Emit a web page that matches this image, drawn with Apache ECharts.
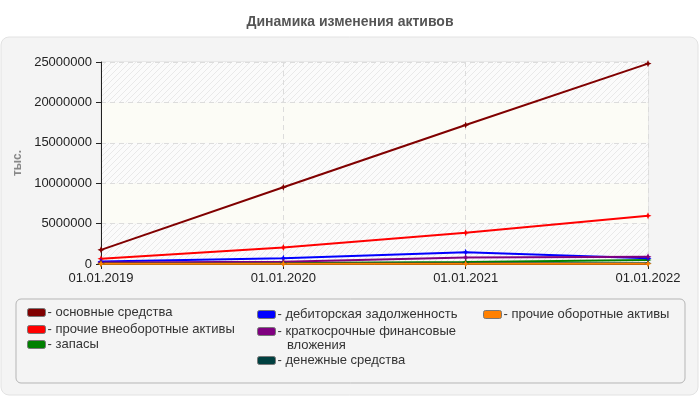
<!DOCTYPE html>
<html><head><meta charset="utf-8">
<script src="https://cdn.jsdelivr.net/npm/echarts@6/dist/echarts.min.js"></script>
<style>html,body{margin:0;padding:0;background:#fff;}#c{width:700px;height:400px;}</style>
</head><body><div id="c"></div>
<script>
const categories = ['01.01.2019', '01.01.2020', '01.01.2021', '01.01.2022'];
const seriesNames = ['основные средства', 'прочие внеоборотные активы', 'запасы', 'дебиторская задолженность', 'краткосрочные финансовые вложения', 'денежные средства', 'прочие оборотные активы'];
const osnovnye = [1750000, 9500000, 17200000, 24800000];
const prochieVneob = [650000, 2050000, 3870000, 5980000];
const zapasy = [100000, 120000, 250000, 500000];
const debitorskaya = [300000, 700000, 1450000, 700000];
const kratkosrochnye = [200000, 280000, 800000, 900000];
const denezhnye = [50000, 60000, 80000, 100000];
const prochieOb = [20000, 20000, 30000, 30000];
const yTicks = [0, 5000000, 10000000, 15000000, 20000000, 25000000];

const seriesData = [osnovnye, prochieVneob, zapasy, debitorskaya, kratkosrochnye, denezhnye, prochieOb];
const colors = ['#800000', '#ff0000', '#008000', '#0000ff', '#800080', '#004040', '#ff8000'];

// hatch pattern
const pc = document.createElement('canvas');
pc.width = 6; pc.height = 6;
const g = pc.getContext('2d');
g.fillStyle = '#fbfbfb'; g.fillRect(0, 0, 6, 6);
g.strokeStyle = '#e9e9e9'; g.lineWidth = 1;
g.beginPath(); g.moveTo(0, 6); g.lineTo(6, 0); g.moveTo(-3, 3); g.lineTo(3, -3); g.moveTo(3, 9); g.lineTo(9, 3); g.stroke();

const font = 'Liberation Sans, Arial, sans-serif';
const star = 'path://M0,-1 L0.3,-0.3 L1,0 L0.3,0.3 L0,1 L-0.3,0.3 L-1,0 L-0.3,-0.3 Z';

const legendPos = [
  [27, 314], [27, 331], [27, 346],
  [257, 316], [257, 333], [257, 362],
  [483, 316]
];

const chart = echarts.init(document.getElementById('c'));
chart.setOption({
  animation: false,
  color: colors,
  title: {
    text: 'Динамика изменения активов', left: 'center', top: 10,
    textStyle: { fontFamily: font, fontSize: 14, fontWeight: 'bold', color: '#555' }
  },
  graphic: [
    { type: 'rect', z: -100, shape: { x: 1, y: 37, width: 697, height: 358, r: 8 }, style: { fill: '#f4f4f4', stroke: '#e2e2e2', lineWidth: 1 } },
    { type: 'rect', z: -99, shape: { x: 16, y: 299, width: 669, height: 84, r: 5 }, style: { fill: '#f4f4f4', stroke: '#b5b5b5', lineWidth: 1 } },
    { type: 'text', z: 10, left: 287, top: 339, style: { text: 'вложения', fill: '#333', font: '13px ' + font } }
  ],
  legend: seriesNames.map((n, i) => ({
    data: [n], left: legendPos[i][0], top: legendPos[i][1] - 8, padding: 0,
    itemWidth: 18, itemHeight: 8, itemGap: 0, icon: 'roundRect', selectedMode: false,
    itemStyle: { borderColor: '#777', borderWidth: 1 },
    formatter: i === 4 ? '- краткосрочные финансовые' : '- {name}',
    textStyle: { fontFamily: font, fontSize: 13, color: '#333', padding: [0, 0, 0, -3] }
  })),
  grid: { left: 101, right: 52, top: 62, bottom: 136, show: true, borderColor: '#dcdcdc', borderWidth: 1, backgroundColor: 'transparent' },
  xAxis: {
    type: 'category', data: categories, boundaryGap: false,
    axisLine: { lineStyle: { color: '#222', width: 1 } },
    axisTick: { show: true, length: 5, lineStyle: { color: '#222' } },
    axisLabel: { fontFamily: font, fontSize: 13, color: '#222', margin: 8 },
    splitLine: { show: true, lineStyle: { color: '#dcdcdc', type: [5, 4] } }
  },
  yAxis: {
    type: 'value', min: 0, max: 25000000, interval: 5000000,
    name: 'тыс.', nameLocation: 'middle', nameGap: 73, nameRotate: 90,
    nameTextStyle: { fontFamily: font, fontSize: 12, fontWeight: 'bold', color: '#888' },
    axisLine: { show: true, lineStyle: { color: '#222', width: 1 } },
    axisTick: { show: true, length: 5, lineStyle: { color: '#222' } },
    axisLabel: { fontFamily: font, fontSize: 13, color: '#222', margin: 9,
      formatter: v => yTicks.includes(v) ? String(v) : '' },
    splitLine: { show: true, lineStyle: { color: '#dcdcdc', type: [5, 4] } },
    splitArea: { show: true, areaStyle: { color: [{ image: pc, repeat: 'repeat' }, '#fcfcf6'] } }
  },
  series: seriesNames.map((n, i) => ({
    name: n, type: 'line', data: seriesData[i],
    symbol: star, symbolSize: 7, showSymbol: true,
    lineStyle: { width: 2, color: colors[i] },
    itemStyle: { color: colors[i] }
  }))
});
</script></body></html>
